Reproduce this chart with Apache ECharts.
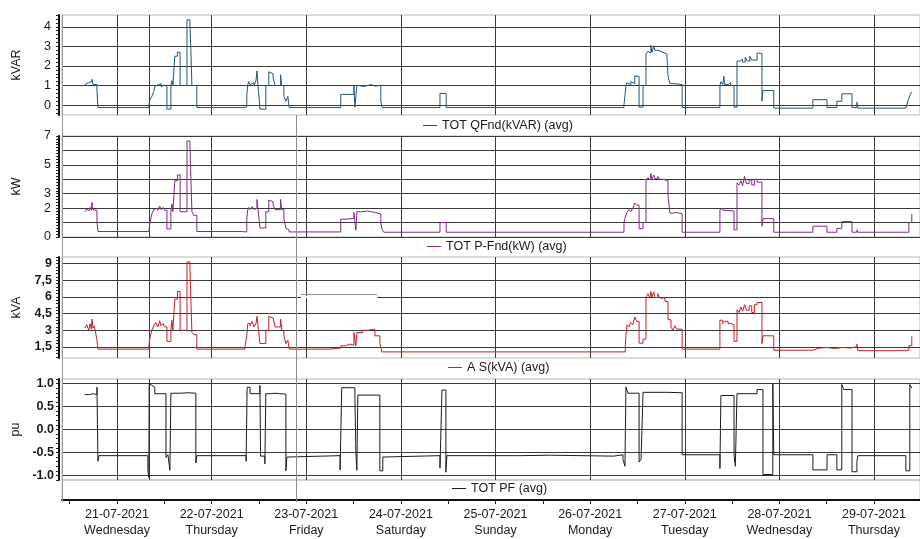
<!DOCTYPE html>
<html>
<head>
<meta charset="utf-8">
<script src="https://cdn.jsdelivr.net/npm/echarts@6/dist/echarts.min.js"></script>
<style>
  html, body { margin: 0; padding: 0; background: #fff; }
  #chart { width: 920px; height: 539px; }
</style>
</head>
<body>
<div id="chart"></div>
<script>
// Samples are written as 'DD HH:MM' (July 2021); each value holds until the next sample.
const qfnd = [
  ['20 15:50',1.05],['20 16:20',1.15],['20 16:50',1.05],['20 17:10',1.2],['20 17:30',1.1],['20 17:40',1.32],['20 17:55',1.05],['20 18:10',1.15],['20 18:25',1.05],['20 18:55',0.75],['20 19:10',-0.12],
  ['21 08:05',0.0],['21 08:20',0.25],['21 08:50',0.45],['21 09:20',0.7],['21 09:35',0.95],['21 10:05',1.05],['21 10:30',0.95],['21 10:50',1.1],['21 11:10',0.95],['21 11:40',1.02],['21 12:05',0.95],['21 12:40',-0.2],['21 13:40',1.0],['21 13:55',1.25],['21 14:10',1.0],['21 14:40',2.5],['21 15:20',2.7],['21 16:00',1.0],['21 17:45',4.35],['21 18:30',4.15],['21 18:45',2.7],['21 19:00',1.0],['21 20:15',-0.12],
  ['22 07:45',-0.1],['22 08:55',0.5],['22 09:10',1.05],['22 09:25',1.2],['22 09:45',1.05],['22 10:15',1.15],['22 10:45',1.0],['22 11:15',1.25],['22 11:30',1.75],['22 11:45',1.05],['22 12:15',-0.2],['22 13:45',1.0],['22 14:30',1.7],['22 15:00',1.6],['22 15:35',1.4],['22 16:05',1.0],['22 17:30',1.55],['22 17:45',1.0],['22 18:20',0.45],['22 18:50',0.2],['22 19:20',0.45],['22 19:40',-0.12],
  ['23 08:45',0.55],['23 12:05',1.0],['23 12:20',-0.1],['23 12:50',1.0],['23 13:30',0.95],['23 14:30',1.0],['23 15:30',1.05],['23 16:30',0.97],['23 17:30',1.02],['23 18:55',0.2],['23 19:15',-0.12],
  ['24 09:55',0.6],['24 11:30',-0.12],
  ['25 02:50',-0.16],['25 03:20',-0.12],['25 06:00',-0.15],['25 06:30',-0.12],
  ['26 08:35',0.0],['26 08:50',0.5],['26 09:05',1.0],['26 09:20',1.15],['26 09:50',1.05],['26 10:20',1.2],['26 10:50',1.1],['26 11:20',1.5],['26 11:50',1.45],['26 12:25',-0.1],['26 13:25',1.0],['26 14:10',2.6],['26 14:40',2.75],['26 15:10',2.65],['26 15:25',3.05],['26 15:40',2.7],['26 16:10',3.0],['26 16:25',2.8],['26 17:10',2.85],['26 17:40',2.7],['26 18:30',2.6],['26 19:30',2.45],['26 19:45',1.5],['26 20:15',1.1],['26 21:30',1.05],['26 23:20',-0.12],
  ['27 08:55',1.0],['27 09:10',1.2],['27 09:40',1.05],['27 09:55',1.48],['27 10:10',1.05],['27 11:00',1.15],['27 11:40',1.0],['27 12:30',-0.1],['27 13:15',2.25],['27 14:00',2.35],['27 14:40',2.2],['27 15:20',2.45],['27 15:50',2.25],['27 16:30',2.5],['27 17:00',2.3],['27 18:20',2.65],['27 19:35',0.2],['27 19:50',0.75],['27 22:35',-0.15],
  ['28 08:30',0.28],['28 12:05',-0.12],['28 14:35',0.2],['28 15:50',0.58],['28 18:25',-0.12],['28 19:40',0.15],['28 19:55',-0.15],
  ['29 08:05',-0.1],['29 08:35',0.2],['29 09:05',0.5],['29 09:35',0.68]
];

const pfnd = [
  ['20 15:50',1.75],['20 16:20',1.95],['20 16:50',1.8],['20 17:10',2.05],['20 17:30',1.85],['20 17:40',2.4],['20 17:55',1.9],['20 18:10',2.0],['20 18:25',1.85],['20 18:55',1.1],['20 19:10',0.38],
  ['21 08:05',0.5],['21 08:20',1.0],['21 08:50',1.6],['21 09:20',1.9],['21 09:50',2.0],['21 10:20',1.85],['21 10:50',2.15],['21 11:10',1.9],['21 11:40',2.05],['21 12:05',1.85],['21 12:40',0.56],['21 13:40',1.75],['21 13:55',2.3],['21 14:10',1.75],['21 14:40',3.9],['21 15:20',4.3],['21 16:00',1.75],['21 17:45',6.65],['21 18:30',6.3],['21 18:45',4.0],['21 19:00',1.75],['21 19:30',1.5],['21 20:15',0.38],
  ['22 07:45',0.35],['22 08:55',1.25],['22 09:10',1.9],['22 09:25',2.05],['22 09:45',1.9],['22 10:15',2.1],['22 10:45',1.9],['22 11:15',2.0],['22 11:30',2.6],['22 11:45',1.95],['22 12:15',0.63],['22 13:45',1.75],['22 14:30',2.55],['22 15:00',2.45],['22 15:35',2.2],['22 16:05',1.9],['22 17:30',2.6],['22 17:45',1.9],['22 18:20',1.25],['22 18:50',0.6],['22 19:20',0.5],['22 19:40',0.35],
  ['23 08:45',1.24],['23 10:30',1.3],['23 12:05',1.7],['23 12:35',0.47],['23 12:50',1.75],['23 14:00',1.8],['23 15:30',1.75],['23 16:30',1.7],['23 17:30',1.6],['23 18:55',1.0],['23 19:15',0.5],['23 19:40',0.33],
  ['24 09:55',1.0],['24 11:30',0.33],
  ['26 08:35',1.0],['26 08:50',1.3],['26 09:20',1.7],['26 09:50',1.9],['26 10:20',1.75],['26 10:50',2.0],['26 11:20',2.35],['26 11:50',2.2],['26 12:25',0.58],['26 13:25',1.0],['26 14:10',3.9],['26 14:40',4.1],['26 15:10',3.95],['26 15:25',4.4],['26 15:40',4.0],['26 16:10',4.3],['26 16:25',4.05],['26 17:10',4.2],['26 17:40',4.0],['26 18:30',3.9],['26 19:45',2.9],['26 20:15',1.65],['26 21:00',1.7],['26 22:00',1.6],['26 23:20',0.33],
  ['27 08:55',1.9],['27 09:10',2.0],['27 09:40',1.85],['27 10:30',1.9],['27 11:00',1.8],['27 12:30',0.5],['27 13:15',3.75],['27 13:45',3.6],['27 14:15',3.9],['27 14:40',3.55],['27 15:10',4.2],['27 15:40',3.7],['27 16:20',3.95],['27 17:00',3.6],['27 17:40',4.0],['27 18:20',3.8],['27 19:35',0.75],['27 19:50',1.27],['27 22:35',0.33],
  ['28 08:30',0.75],['28 12:05',0.33],['28 14:35',0.6],['28 15:50',1.07],['28 18:25',0.33],['28 19:40',0.5],['28 19:55',0.33],
  ['29 08:05',0.33],['29 08:50',1.0],['29 09:35',1.6]
];

const sApparent = [
  ['20 15:50',3.2],['20 16:20',3.5],['20 16:50',3.0],['20 17:10',3.6],['20 17:30',3.1],['20 17:40',4.0],['20 17:55',3.2],['20 18:10',3.4],['20 18:25',3.1],['20 18:55',2.1],['20 19:10',1.3],
  ['21 08:05',1.6],['21 08:20',2.3],['21 08:50',3.0],['21 09:20',3.4],['21 09:50',3.7],['21 10:20',3.3],['21 10:50',3.85],['21 11:10',3.4],['21 11:40',3.6],['21 12:05',3.3],['21 12:40',2.0],['21 13:40',3.0],['21 13:55',3.9],['21 14:10',3.0],['21 14:40',5.8],['21 15:20',6.5],['21 16:00',3.0],['21 17:45',9.15],['21 18:30',8.7],['21 18:45',5.6],['21 19:00',2.8],['21 19:30',2.6],['21 20:15',1.3],
  ['22 08:30',1.6],['22 08:55',2.5],['22 09:10',3.6],['22 09:45',3.4],['22 10:15',3.8],['22 10:45',3.3],['22 11:15',3.6],['22 11:30',4.25],['22 11:45',3.5],['22 12:15',1.8],['22 13:45',3.0],['22 14:30',4.25],['22 15:00',4.1],['22 15:35',3.95],['22 16:05',3.3],['22 17:30',4.0],['22 17:45',3.0],['22 18:20',2.5],['22 18:50',1.8],['22 19:20',2.1],['22 19:40',1.3],
  ['23 06:00',1.4],['23 08:45',1.6],['23 10:00',1.75],['23 11:00',1.65],['23 12:05',2.8],['23 12:35',1.6],['23 12:50',2.8],['23 14:20',3.0],['23 15:30',3.1],['23 17:25',2.5],['23 18:40',1.8],['23 19:10',1.05],
  ['26 08:55',1.6],['26 09:05',2.5],['26 09:20',3.5],['26 09:50',3.3],['26 10:20',3.7],['26 10:50',3.5],['26 11:20',4.2],['26 11:50',3.8],['26 12:25',1.84],['26 13:25',2.2],['26 14:10',6.0],['26 14:40',6.3],['26 15:10',5.9],['26 15:25',6.5],['26 15:40',6.0],['26 16:10',6.45],['26 16:25',5.95],['26 17:10',6.3],['26 17:40',5.9],['26 19:00',5.6],['26 19:45',3.95],['26 20:30',3.3],['26 21:00',3.0],['26 21:30',3.4],['26 22:00',3.1],['26 23:20',1.3],
  ['27 08:55',3.9],['27 09:40',3.6],['27 10:10',3.8],['27 11:00',3.6],['27 11:40',3.5],['27 12:30',2.0],['27 13:15',4.85],['27 13:45',4.6],['27 14:15',5.1],['27 14:40',4.7],['27 15:10',5.3],['27 15:40',4.8],['27 16:20',5.2],['27 17:00',4.6],['27 17:40',5.3],['27 18:20',5.5],['27 19:35',1.8],['27 19:50',2.5],['27 22:35',1.2],
  ['28 08:30',1.38],['28 10:00',1.45],['28 12:00',1.35],['28 14:00',1.45],['28 16:00',1.4],['28 18:00',1.5],['28 19:40',1.75],['28 19:55',1.16],
  ['29 08:05',1.2],['29 08:50',1.6],['29 09:35',2.45]
];

const powerFactor = [
  ['20 15:50',0.76],['20 17:00',0.78],['20 18:00',0.76],['20 18:55',0.92],['20 19:10',-0.69],['20 19:25',-0.57],
  ['21 07:50',-0.89],['21 08:05',-1.05],['21 08:10',1.0],['21 08:20',0.96],['21 08:50',0.92],['21 09:35',0.78],['21 12:25',-0.61],['21 12:55',-0.55],['21 13:25',-0.89],['21 13:40',0.79],['21 16:00',0.8],['21 18:00',0.79],['21 20:00',-0.73],['21 20:15',-0.57],
  ['22 08:45',-0.69],['22 09:00',0.92],['22 09:45',0.78],['22 12:15',0.96],['22 12:25',-0.58],['22 13:30',-0.75],['22 13:45',0.78],['22 15:00',0.79],['22 16:00',0.77],['22 18:50',-0.9],['22 19:05',-0.6],['22 19:20',-0.57],
  ['23 08:35',-0.88],['23 09:00',0.91],['23 12:20',0.76],['23 12:35',-0.5],['23 12:50',-0.89],['23 13:05',0.75],['23 18:40',-0.9],['23 19:25',-0.6],['23 19:55',-0.57],
  ['24 09:55',-0.84],['24 10:25',0.86],['24 11:25',-0.93],['24 11:40',-0.57],
  ['25 06:00',-0.56],['25 14:00',-0.58],['26 06:00',-0.55],
  ['26 08:20',-0.65],['26 08:50',-0.8],['26 09:05',0.93],['26 09:35',0.79],['26 12:25',-0.71],['26 12:55',-0.65],['26 13:25',0.81],['26 19:45',0.83],['26 20:00',0.8],['26 23:20',-0.55],
  ['27 08:55',-0.85],['27 09:10',0.74],['27 12:30',-0.55],['27 12:50',-0.8],['27 13:15',0.78],['27 18:20',0.87],['27 19:50',-0.98],['27 22:20',1.0],['27 22:35',-0.55],
  ['28 08:30',-0.88],['28 12:05',-0.55],['28 14:35',-0.88],['28 15:50',0.98],['28 16:20',0.87],['28 18:25',-0.92],['28 19:40',-0.7],['28 19:55',-0.57],
  ['29 08:05',-0.9],['29 09:05',0.98],['29 09:35',0.9]
];

// Axis ticks and labels
const dayStarts = ['21 00:00','22 00:00','23 00:00','24 00:00','25 00:00','26 00:00','27 00:00','28 00:00','29 00:00'];
const dateLabels = ['21-07-2021','22-07-2021','23-07-2021','24-07-2021','25-07-2021','26-07-2021','27-07-2021','28-07-2021','29-07-2021'];
const weekdayLabels = ['Wednesday','Thursday','Friday','Saturday','Sunday','Monday','Tuesday','Wednesday','Thursday'];
const kvarGrid = [0, 1, 2, 3, 4];
const kvarLabels = [0, 1, 2, 3, 4];
const kwGrid = [0, 1, 2, 3, 4, 5, 6, 7];
const kwLabels = [0, 2, 3, 5, 7];
const kvaGrid = [1.5, 3, 4.5, 6, 7.5, 9];
const kvaLabels = [1.5, 3, 4.5, 6, 7.5, 9];
const puGrid = [-1, -0.5, 0, 0.5, 1];
const puLabels = [-1, -0.5, 0, 0.5, 1];

const viewStart = '20 10:03';
const viewEnd = '29 11:40';
const eventMark = '21 08:05';
const cursorMark = '22 21:24';
const ghostLine = { from: '22 22:40', to: '23 17:57', value: 6.25 };

function ts(s) {
  const d = +s.slice(0, 2), h = +s.slice(3, 5), m = +s.slice(6, 8);
  return new Date(2021, 6, d, h, m).getTime();
}
const toPoints = arr => arr.map(p => [ts(p[0]), p[1]]);

const xMin = ts(viewStart), xMax = ts(viewEnd);
const dayTimes = dayStarts.map(ts);
const halfDayTicks = [];
for (let t = ts('20 12:00'); t < xMax; t += 12 * 3600 * 1000) halfDayTicks.push(t);

function fineTicks(min, max, step) {
  const out = [];
  for (let k = Math.ceil(min / step - 1e-9); k * step <= max + 1e-9; k++) out.push(+(k * step).toFixed(4));
  return out;
}

const FONT = 'Liberation Sans, Arial, sans-serif';
const TXT = '#1a1a1a';
const GRID_COL = '#3a3a3a';

// Panel layout (pixels)
const panels = [
  { top: 15,  height: 100, min: -0.5, max: 4.6, step: 0.2, name: 'kVAR', grid: kvarGrid, labels: kvarLabels, fmt: v => String(v), bold: false, margin: 8 },
  { top: 136, height: 101, min: 0,    max: 7,   step: 0.2, name: 'kW',   grid: kwGrid,   labels: kwLabels,   fmt: v => String(v), bold: false, margin: 8 },
  { top: 257, height: 101, min: 0.5,  max: 9.6, step: 0.3, name: 'kVA',  grid: kvaGrid,  labels: kvaLabels,  fmt: v => String(v).replace('.', ','), bold: true, margin: 7 },
  { top: 379, height: 101, min: -1.1, max: 1.1, step: 0.1, name: 'pu',   grid: puGrid,   labels: puLabels,   fmt: v => v.toFixed(1), bold: true, margin: 5 }
];
const axisBand = { top: 480, height: 22 };

const seriesDefs = [
  { name: 'TOT QFnd(kVAR) (avg)', data: qfnd,        color: '#25557a' },
  { name: 'TOT P-Fnd(kW) (avg)',  data: pfnd,        color: '#7e2c80' },
  { name: 'A S(kVA) (avg)',       data: sApparent,   color: '#c4202a' },
  { name: 'TOT PF (avg)',         data: powerFactor, color: '#1c1c1c' }
];
const legendPos = [
  { left: 423, top: 119 },
  { left: 427, top: 240 },
  { left: 448, top: 361 },
  { left: 452, top: 482 }
];

const grids = panels.map(p => ({ left: 62, right: 0, top: p.top, height: p.height, show: true, borderColor: '#b8b8b8', borderWidth: 1 }));
grids.push({ left: 62, right: 0, top: axisBand.top, height: axisBand.height, show: true, borderColor: '#c4c4c4', borderWidth: 1 });

const xAxes = panels.map((p, i) => ({
  type: 'value', gridIndex: i, min: xMin, max: xMax, show: false, splitLine: { show: false }
}));
xAxes.push({
  type: 'value', gridIndex: 4, min: xMin, max: xMax, position: 'bottom',
  axisLine: { show: true, lineStyle: { color: '#111', width: 2 } },
  axisTick: { show: true, customValues: halfDayTicks, length: 4, lineStyle: { color: '#222', width: 1 } },
  axisLabel: {
    customValues: dayTimes, margin: 7, lineHeight: 16, fontFamily: FONT, fontSize: 12.5, color: TXT,
    formatter: v => { const i = dayTimes.indexOf(v); return i < 0 ? '' : dateLabels[i] + '\n' + weekdayLabels[i]; }
  },
  splitLine: { show: false }
});

const yAxes = [];
panels.forEach((p, i) => {
  yAxes.push({
    type: 'value', gridIndex: i, min: p.min, max: p.max, offset: 3,
    name: p.name, nameLocation: 'middle', nameGap: 36, nameRotate: 90,
    nameTextStyle: { fontFamily: FONT, fontSize: 12.5, color: TXT },
    axisLine: { show: true, lineStyle: { color: '#111', width: 2 } },
    axisTick: { show: true, customValues: fineTicks(p.min, p.max, p.step), length: 3, lineStyle: { color: '#222', width: 1 } },
    axisLabel: { customValues: p.labels, formatter: p.fmt, margin: p.margin, fontFamily: FONT, fontSize: 12.5, fontWeight: p.bold ? 'bold' : 'normal', color: TXT },
    splitLine: { show: false }
  });
});
// Longer ticks beside the labelled values
panels.forEach((p, i) => {
  yAxes.push({
    type: 'value', gridIndex: i, min: p.min, max: p.max, offset: 3,
    axisLine: { show: false },
    axisTick: { show: true, customValues: p.labels, length: 6, lineStyle: { color: '#111', width: 1 } },
    axisLabel: { show: false },
    splitLine: { show: false }
  });
});
yAxes.push({ type: 'value', gridIndex: 4, min: 0, max: 1, show: false });

const lineBase = { type: 'solid', width: 1, color: GRID_COL };
const series = seriesDefs.map((s, i) => {
  const p = panels[i];
  const marks = [];
  p.grid.forEach(v => marks.push({ yAxis: v }));
  dayTimes.forEach(t => marks.push({ xAxis: t }));
  marks.push({ xAxis: ts(eventMark), lineStyle: { color: '#8f1d1d', width: 1 } });
  if (i === 2) {
    marks.push([{ coord: [ts(ghostLine.from), 6], lineStyle: { color: '#ffffff', width: 2 } }, { coord: [ts(ghostLine.to), 6] }]);
    marks.push([{ coord: [ts(ghostLine.from), ghostLine.value], lineStyle: { color: '#8a8a8a', width: 1 } }, { coord: [ts(ghostLine.to), ghostLine.value] }]);
  }
  return {
    name: s.name, type: 'line', xAxisIndex: i, yAxisIndex: i, step: 'end',
    data: toPoints(s.data), showSymbol: false, symbol: 'none',
    lineStyle: { color: s.color, width: 1 }, itemStyle: { color: s.color },
    z: 3, silent: true,
    markLine: { silent: true, symbol: ['none', 'none'], label: { show: false }, lineStyle: lineBase, data: marks, z: 1, animation: false }
  };
});

const legends = seriesDefs.map((s, i) => ({
  data: [s.name], left: legendPos[i].left, top: legendPos[i].top,
  icon: 'rect', itemWidth: 14, itemHeight: 1, padding: 0, selectedMode: false,
  textStyle: { fontFamily: FONT, fontSize: 12.5, color: TXT }
}));

const chart = echarts.init(document.getElementById('chart'), null, { renderer: 'canvas' });
chart.setOption({
  backgroundColor: '#ffffff',
  animation: false,
  grid: grids,
  xAxis: xAxes,
  yAxis: yAxes,
  legend: legends,
  series: series
});

// Cursor line crossing every panel, and the common left frame
const cx = chart.convertToPixel({ xAxisIndex: 4 }, ts(cursorMark));
const frameTop = panels[0].top;
const frameBottom = axisBand.top + axisBand.height;
chart.setOption({
  graphic: [
    { type: 'line', shape: { x1: 62.5, y1: frameTop, x2: 62.5, y2: frameBottom }, style: { stroke: '#9a9a9a', lineWidth: 1 }, z: 50, silent: true },
    { type: 'line', shape: { x1: Math.round(cx) + 0.5, y1: panels[0].top + panels[0].height, x2: Math.round(cx) + 0.5, y2: frameBottom }, style: { stroke: '#8c8c8c', lineWidth: 1 }, z: 50, silent: true }
  ]
});
</script>
</body>
</html>
